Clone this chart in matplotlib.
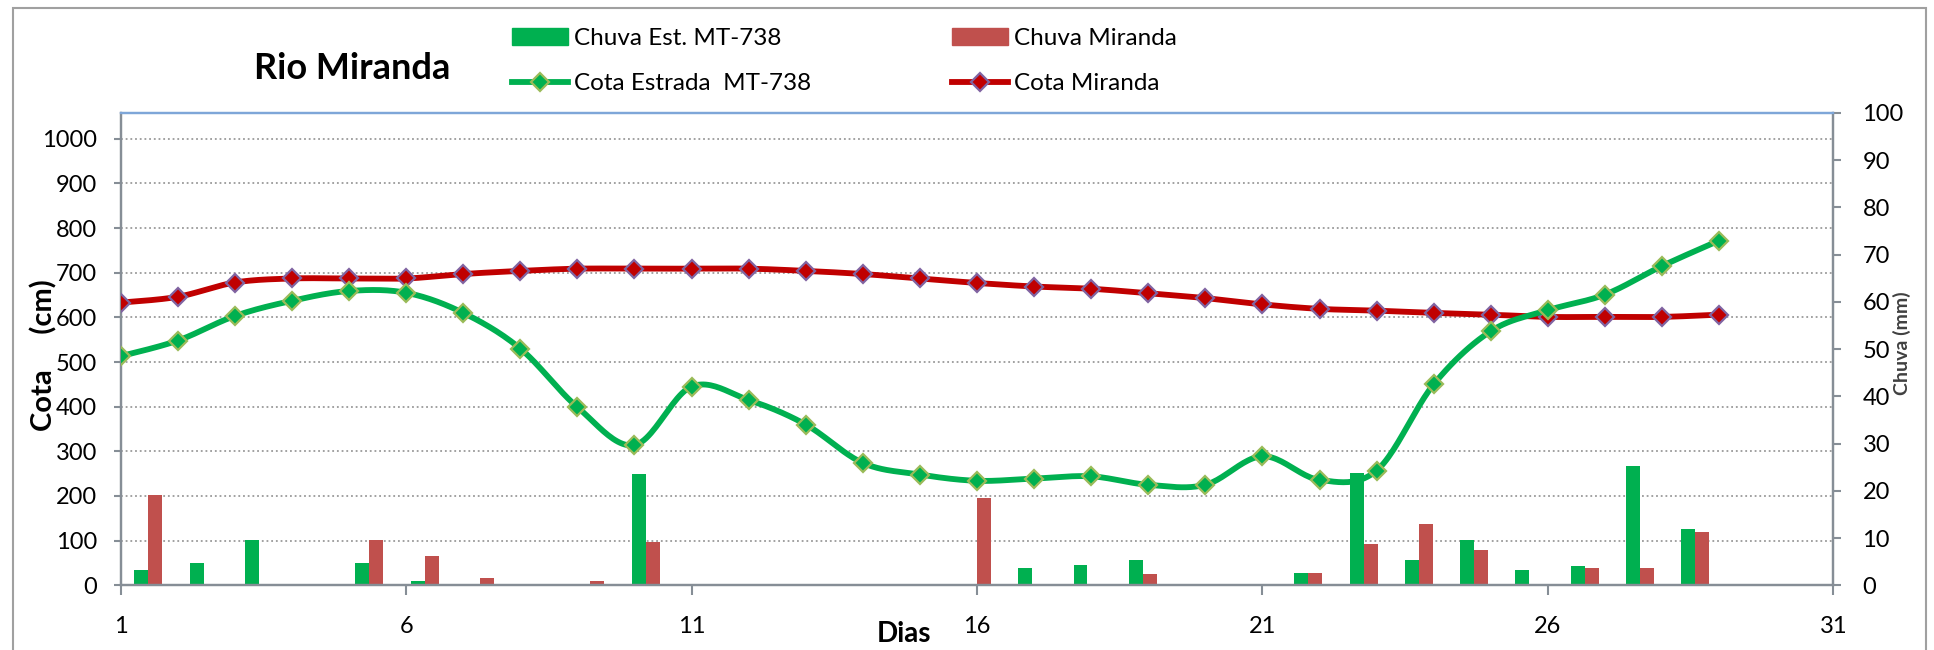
import numpy as np
import matplotlib
matplotlib.use("Agg")
import matplotlib.pyplot as plt
from matplotlib.patches import Rectangle, Patch
from matplotlib.lines import Line2D

plt.rcParams['font.family'] = ['Lato', 'DejaVu Sans']

# dados (dias 1 a 29)
dias = np.arange(1, 30)
cota_estrada = [513, 548, 603, 637, 659, 655, 610, 530, 399, 314,
                445, 415, 360, 274, 248, 234, 239, 244, 225, 225,
                289, 236, 257, 450, 569, 616, 651, 715, 772]
cota_miranda = [633, 646, 678, 687, 687, 687, 697, 704, 709, 709,
                709, 709, 704, 697, 687, 677, 669, 664, 654, 643,
                629, 619, 615, 610, 606, 601, 601, 601, 606]
chuva_est = [3.2, 4.8, 9.5, 0.2, 4.8, 1.0, 0, 0, 0, 23.5,
             0, 0, 0, 0, 0, 0, 3.6, 4.4, 5.3, 0.2,
             0, 2.7, 23.8, 5.3, 9.5, 3.2, 4.0, 25.2, 12.0]
chuva_miranda = [19.2, 0, 0, 0, 9.5, 6.1, 1.5, 0, 1.0, 9.1,
                 0, 0, 0, 0, 0, 18.4, 0, 0, 2.3, 0,
                 0, 2.7, 8.7, 12.9, 7.4, 0, 3.6, 3.6, 11.2]

verde = '#00B050'
vermelho = '#C0504D'
vermelho_linha = '#C00000'
cinza = '#868E96'


def suaviza(x, y, n=24):
    # curva suavizada tipo Excel (bezier / catmull-rom)
    x = np.asarray(x, float)
    y = np.asarray(y, float)
    px = np.r_[x[0], x, x[-1]]
    py = np.r_[y[0], y, y[-1]]
    t = np.linspace(0, 1, n, endpoint=False)
    xs, ys = [], []
    for i in range(1, len(px) - 2):
        x0, y0 = px[i], py[i]
        x3, y3 = px[i + 1], py[i + 1]
        x1 = x0 + (px[i + 1] - px[i - 1]) / 6
        y1 = y0 + (py[i + 1] - py[i - 1]) / 6
        x2 = x3 - (px[i + 2] - px[i]) / 6
        y2 = y3 - (py[i + 2] - py[i]) / 6
        a = (1 - t) ** 3
        b = 3 * (1 - t) ** 2 * t
        c = 3 * (1 - t) * t ** 2
        d = t ** 3
        xs.append(a * x0 + b * x1 + c * x2 + d * x3)
        ys.append(a * y0 + b * y1 + c * y2 + d * y3)
    xs.append([x[-1]])
    ys.append([y[-1]])
    return np.concatenate(xs), np.concatenate(ys)


fig = plt.figure(figsize=(19.34, 6.5), dpi=100)
ax2 = fig.add_axes([120.7 / 1934, 1 - 585.3 / 650, (1833.3 - 120.7) / 1934, (585.3 - 112.8) / 650])
ax = ax2.twinx()
ax.yaxis.tick_left()
ax2.yaxis.tick_right()
ax.set_zorder(ax2.get_zorder() + 1)
ax.patch.set_visible(False)

ymax = 1058
ax2.set_xlim(1, 31)
ax.set_ylim(0, ymax)
ax2.set_ylim(0, 100)

# linhas de grade (atras das barras)
for v in range(100, 1001, 100):
    ax2.axhline(v * 100 / ymax, color='#9A9A9A', lw=1.3, ls=(0, (1, 1.6)), zorder=0)

# barras: eixo de categorias secundario (31 categorias)
larg = 0.245
pos = 1 + (dias - 0.5) * 30 / 31
ax2.bar(pos - larg / 2, chuva_est, width=larg, color=verde, zorder=2)
ax2.bar(pos + larg / 2, chuva_miranda, width=larg, color=vermelho, zorder=2)

xs, ys = suaviza(dias, cota_miranda)
ax.plot(xs, ys, color=vermelho_linha, lw=4.2, solid_capstyle='round', zorder=3)
ax.plot(dias, cota_miranda, ls='none', marker='D', ms=9.5, mfc=vermelho_linha,
        mec='#8064A2', mew=1.6, zorder=4)
xs, ys = suaviza(dias, cota_estrada)
ax.plot(xs, ys, color=verde, lw=4.2, solid_capstyle='round', zorder=5)
ax.plot(dias, cota_estrada, ls='none', marker='D', ms=9.5, mfc=verde,
        mec='#9BBB59', mew=1.6, zorder=6)

ax2.set_xticks(range(1, 32, 5))
ax.set_yticks(range(0, 1001, 100))
ax2.set_yticks(range(0, 101, 10))

ax2.tick_params(axis='x', length=7, width=1.5, color=cinza, pad=15, labelsize=17)
ax.tick_params(axis='y', length=5, width=1.5, color=cinza, pad=12, labelsize=17)
ax2.tick_params(axis='y', length=6, width=1.5, color=cinza, pad=15, labelsize=17)

for a in (ax, ax2):
    for s in ('left', 'right', 'bottom'):
        a.spines[s].set_color(cinza)
        a.spines[s].set_linewidth(1.6)
    a.spines['top'].set_color('#7EA6D8')
    a.spines['top'].set_linewidth(1.6)

# textos
fig.text(352 / 1934, 1 - 79 / 650, 'Rio Miranda', ha='center', va='baseline',
         fontsize=26, fontweight='bold')
fig.text(904 / 1934, 1 - 642 / 650, 'Dias', ha='center', va='baseline',
         fontsize=20, fontweight='bold')
fig.text(44 / 1934, 1 - 355 / 650, 'Cota     (cm)', rotation=90, ha='center', va='center',
         fontsize=21, fontweight='bold')
fig.text(1902 / 1934, 1 - 343 / 650, 'Chuva (mm)', rotation=90, ha='center', va='center',
         fontsize=14, fontweight='bold', color='#404040')

# legenda em duas colunas
h_est = [Patch(color=verde),
         Line2D([], [], color=verde, lw=4.2, marker='D', ms=9.5, mfc=verde, mec='#9BBB59', mew=1.6)]
h_mir = [Patch(color=vermelho),
         Line2D([], [], color=vermelho_linha, lw=4.2, marker='D', ms=9.5, mfc=vermelho_linha,
                mec='#8064A2', mew=1.6)]
kw = dict(loc='upper left', frameon=False, fontsize=17.5, handlelength=2.3,
          handletextpad=0.25, labelspacing=1.0, borderpad=0, borderaxespad=0)
fig.legend(h_est, ['Chuva Est. MT-738', 'Cota Estrada  MT-738'],
           bbox_to_anchor=(512 / 1934, 1 - 28 / 650), **kw)
fig.legend(h_mir, ['Chuva Miranda', 'Cota Miranda'],
           bbox_to_anchor=(952 / 1934, 1 - 28 / 650), **kw)

# moldura do grafico
fig.patches.append(Rectangle((12.7 / 1934, -0.05), (1926 - 12.7) / 1934, (650 - 7.5) / 650 + 0.05,
                             transform=fig.transFigure, fill=False, edgecolor='#A0A0A0', lw=1.5))

plt.savefig("out.png", dpi=100)
